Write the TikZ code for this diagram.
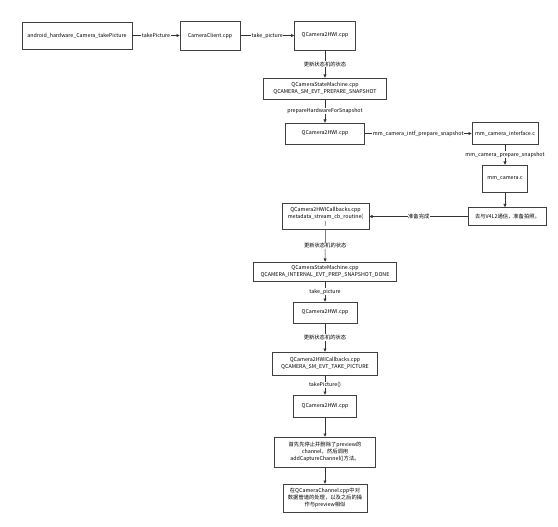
\documentclass[tikz,border=0pt]{standalone}
\usepackage{fontspec}
\setmainfont{Noto Sans CJK SC}
\usepackage{tikz}
\usetikzlibrary{arrows.meta}
\tikzset{
  bx/.style={rectangle,draw=black!75,fill=white,line width=.6pt,inner sep=1pt,
    align=center,font=\fontsize{5.3}{7}\selectfont},
  lnk/.style={-{Triangle[length=3.2pt,width=3pt]},draw=black!80,line width=.55pt},
  lb/.style={fill=white,inner sep=.6pt,font=\fontsize{5.3}{6}\selectfont},
}
\begin{document}
\begin{tikzpicture}[x=1pt,y=-1pt]
\useasboundingbox[fill=white] (0,0) rectangle (558,527);
% ---------- top row ----------
\node[bx,minimum width=110pt,minimum height=27pt] (jni) at (77,35.5) {android\_hardware\_Camera\_takePicture};
\node[bx,minimum width=60pt,minimum height=29pt] (client) at (210,35.5) {CameraClient.cpp};
\node[bx,minimum width=61pt,minimum height=29pt] (hwiA) at (325,35.5) {QCamera2HWI.cpp};
\draw[lnk] (jni) -- node[lb]{takePicture} (client);
\draw[lnk] (client) -- node[lb]{take\_picture} (hwiA);
% ---------- prepare snapshot ----------
\node[bx,minimum width=123pt,minimum height=21pt] (smA) at (325,88.5)
  {QCameraStateMachine.cpp\\QCAMERA\_SM\_EVT\_PREPARE\_SNAPSHOT};
\node[bx,minimum width=79pt,minimum height=21pt] (hwiB) at (325,133.5) {QCamera2HWI.cpp};
\draw[lnk] (hwiA) -- node[lb]{更新状态机的状态} (smA);
\draw[lnk] (smA) -- node[lb]{prepareHardwareForSnapshot} (hwiB);
% ---------- mm-camera side ----------
\node[bx,minimum width=66pt,minimum height=22pt] (intf) at (505,133.5) {mm\_camera\_interface.c};
\node[bx,minimum width=45pt,minimum height=27pt] (mmcam) at (505,178.5) {mm\_camera.c};
\node[bx,minimum width=78pt,minimum height=18pt] (v4l) at (507.5,216.5) {去与V4L2通信，准备拍照。};
\draw[lnk] (hwiB) -- node[lb]{mm\_camera\_intf\_prepare\_snapshot} (intf);
\draw[lnk] (intf) -- node[lb]{mm\_camera\_prepare\_snapshot} (mmcam);
\draw[lnk] (mmcam.south) -- (mmcam.south |- v4l.north);
% ---------- back to HAL ----------
\node[bx,minimum width=87pt,minimum height=26pt] (cbA) at (325.5,216.5)
  {QCamera2HWICallbacks.cpp\\metadata\_stream\_cb\_routine(\\)};
\node[bx,minimum width=143pt,minimum height=19pt] (smB) at (325,271.5)
  {QCameraStateMachine.cpp\\QCAMERA\_INTERNAL\_EVT\_PREP\_SNAPSHOT\_DONE};
\node[bx,minimum width=64pt,minimum height=21pt] (hwiC) at (325,312.5) {QCamera2HWI.cpp};
\node[bx,minimum width=105pt,minimum height=23pt] (cbB) at (325,363.5)
  {QCamera2HWICallbacks.cpp\\QCAMERA\_SM\_EVT\_TAKE\_PICTURE};
\node[bx,minimum width=63pt,minimum height=22pt] (hwiD) at (325,406) {QCamera2HWI.cpp};
\node[bx,minimum width=101pt,minimum height=30pt] (stop) at (325,452)
  {首先先停止并删除了preview的\\channel，然后调用\\addCaptureChannel()方法。};
\node[bx,minimum width=84pt,minimum height=28pt] (chan) at (325,498)
  {在QCameraChannel.cpp中对\\数据管道的处理，以及之后的操\\作与preview相似};
\draw[lnk] (v4l) -- node[lb]{准备完成} (cbA);
\draw[lnk] (cbA) -- node[lb]{更新状态机的状态} (smB);
\draw[lnk] (smB) -- node[lb]{take\_picture} (hwiC);
\draw[lnk] (hwiC) -- node[lb]{更新状态机的状态} (cbB);
\draw[lnk] (cbB) -- node[lb]{takePicture()} (hwiD);
\draw[lnk] (hwiD) -- (stop);
\draw[lnk] (stop) -- (chan);
\end{tikzpicture}
\end{document}
